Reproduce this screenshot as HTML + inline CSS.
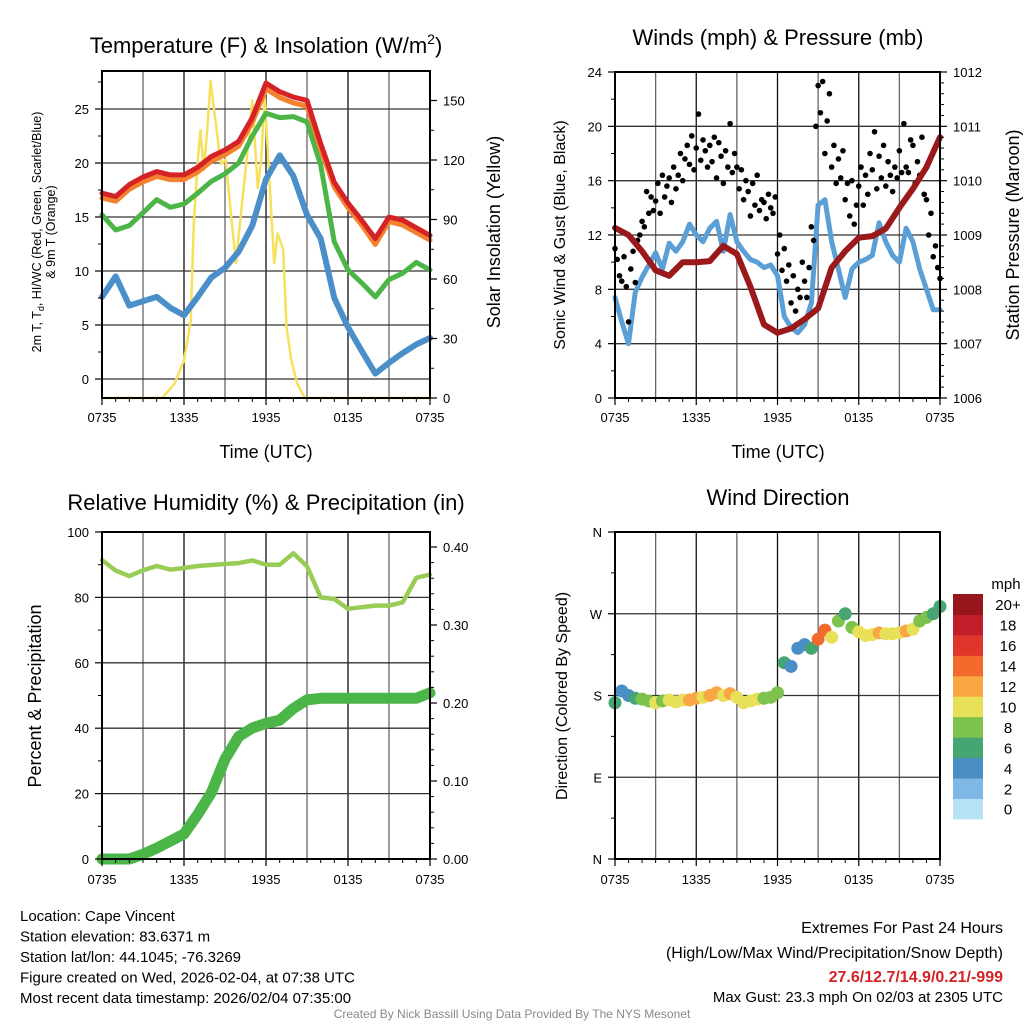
<!DOCTYPE html>
<html><head><meta charset="utf-8"><title>Cape Vincent Meteogram</title>
<style>
html,body{margin:0;padding:0;background:#fff;}
svg{display:block;font-family:"Liberation Sans",Arial,sans-serif;}
</style></head>
<body>
<svg id="chart" width="1024" height="1024" viewBox="0 0 1024 1024" xmlns="http://www.w3.org/2000/svg">
<rect x="0" y="0" width="1024" height="1024" fill="#fff"/>
<g id="layer"></g>
</svg>
<script>
// ===== Shared time axis =====
const timeTickLabels = ["0735","1335","1935","0135","0735"];
const timeTickHours = [0,6,12,18,24];

// ===== Panel 1: temperature (hourly) =====
const tempRed =    [17.2,16.9,18.0,18.7,19.2,18.9,18.9,19.6,20.6,21.2,22.0,24.2,27.4,26.6,26.1,25.8,21.8,18.2,16.3,14.7,13.0,15.0,14.7,14.0,13.3];
const tempOrange = [16.9,16.6,17.7,18.4,18.9,18.6,18.6,19.3,20.3,20.9,21.7,23.9,27.0,26.2,25.7,25.4,21.4,17.9,16.0,14.4,12.6,14.7,14.4,13.7,13.0];
const tempGreen =  [15.2,13.8,14.2,15.4,16.6,15.9,16.2,17.2,18.3,19.0,20.0,22.5,24.6,24.2,24.3,23.8,19.8,12.7,10.1,8.9,7.6,9.2,9.8,10.8,10.1];
const tempBlue =   [7.6,9.5,6.8,7.2,7.6,6.6,5.9,7.6,9.4,10.3,11.8,14.2,18.5,20.7,18.8,15.2,13.0,7.5,4.8,2.6,0.5,1.5,2.4,3.2,3.8];
const solarHours = [0,4.4,5.3,6.0,6.5,6.7,6.985,7.2,7.45,7.7,7.95,8.2,8.7,9.05,9.4,9.8,10.2,10.7,11.0,11.4,11.65,11.9,12.25,12.6,12.85,13.25,13.5,13.85,14.3,14.85,24];
const solarVals =  [0,0,7,19,39,86,118,135,115,135,160,145,118,120,95,68,95,128,150,106,120,152,110,68,83,75,36,19,7,0,0];
const p1LeftTicks = [0,5,10,15,20,25];
const p1RightTicks = [0,30,60,90,120,150];

// ===== Panel 2: winds & pressure =====
const windSpeed = [7.4,5.6,4.0,7.8,8.9,9.8,10.7,9.5,11.4,10.8,11.5,12.8,12.0,11.5,12.5,13.0,10.8,13.5,11.5,10.8,10.2,10.0,9.6,9.8,9.0,6.0,5.2,4.8,5.4,7.0,14.2,14.6,11.5,9.5,7.4,9.5,10.0,10.2,10.5,12.9,11.5,10.5,10.0,12.5,11.5,9.5,8.0,6.5,6.5];
const pressure = [1009.13,1009.0,1008.7,1008.35,1008.25,1008.5,1008.5,1008.52,1008.8,1008.65,1008.05,1007.35,1007.2,1007.28,1007.45,1007.65,1008.4,1008.7,1008.95,1008.98,1009.12,1009.5,1009.85,1010.25,1010.8];
const gusts = [11.0,10.2,9.0,8.6,10.4,8.2, 5.6,9.5,10.8,8.5,11.6,12.0, 13.0,12.6,15.2,13.6,14.8,13.8, 14.5,15.8,13.6,16.4,14.8,15.6,
 16.2,14.4,17.0,15.4,16.4,18.0, 16.0,17.6,18.6,17.2,19.3,16.8, 18.4,20.9,17.5,19.0,18.2,17.0, 18.6,17.4,19.2,16.2,18.8,17.8,
 15.8,18.2,17.0,20.2,16.6,18.0, 17.0,15.4,16.8,14.6,16.0,15.2, 13.4,15.8,14.2,16.4,13.8,14.6, 14.4,13.2,15.0,14.0,13.6,14.8,
 10.6,12.0,9.4,11.0,8.6,9.8, 7.0,9.0,6.4,8.0,7.4,10.0, 8.6,7.4,9.6,12.6,11.6,20.0, 23.0,21.0,23.3,18.0,20.4,22.4,
 17.0,18.6,15.8,17.6,16.2,18.2, 14.6,15.8,13.4,16.0,12.8,14.2, 15.6,17.0,14.2,16.4,15.0,18.0, 16.8,19.6,15.4,17.8,16.2,18.6,
 15.6,17.4,16.4,15.2,17.0,16.2, 18.2,16.6,20.2,17.0,16.6,19.0, 18.6,15.8,17.4,16.4,19.2,15.0, 14.6,12.0,13.6,10.4,11.2,9.6, 8.8];
const p2LeftTicks = [0,4,8,12,16,20,24];
const p2RightTicks = [1006,1007,1008,1009,1010,1011,1012];

// ===== Panel 3: RH & precip (hourly) =====
const rh = [91.4,88.2,86.5,88.3,89.6,88.5,89.0,89.6,89.9,90.2,90.5,91.3,90.0,90.0,93.5,89.5,80.0,79.5,76.5,77.0,77.5,77.5,78.5,86.0,87.0];
const precip = [0,0,0,0.006,0.014,0.023,0.032,0.057,0.085,0.128,0.157,0.168,0.174,0.178,0.193,0.204,0.206,0.206,0.206,0.206,0.206,0.206,0.206,0.206,0.213];
const p3LeftTicks = [0,20,40,60,80,100];
const p3RightTicks = [0,0.1,0.2,0.3,0.4];
const p3RightLabels = ["0.00","0.10","0.20","0.30","0.40"];

// ===== Panel 4: wind direction (half-hourly, degrees) =====
const windDir = [172,185,180,177,176,174,172,174,175,173,175,175,177,178,180,183,180,182,178,172,174,176,177,178,183,216,212,232,236,232,242,252,244,262,270,255,250,246,247,249,248,248,249,251,253,262,266,270,278];
const dirTicks = [0,90,180,270,360];
const dirLabels = ["N","E","S","W","N"];
const speedBins = [0,2,4,6,8,10,12,14,16,18,20];
const speedBinLabels = ["0","2","4","6","8","10","12","14","16","18","20+"];
const speedColors = ["#b8e2f6","#7fb8e4","#4a8ec6","#45a673","#7cc24c","#e8e058","#f8a744","#f26a2c","#e0352a","#c01e28","#97161c"];

const NS = "http://www.w3.org/2000/svg";
const layer = document.getElementById("layer");
function el(tag, attrs, parent){
  const e = document.createElementNS(NS, tag);
  for (const k in attrs) e.setAttribute(k, attrs[k]);
  (parent||layer).appendChild(e);
  return e;
}
function txt(s, x, y, size, anchor, parent, extra){
  const t = el("text", Object.assign({x:x, y:y, "font-size":size, "text-anchor":anchor||"middle", fill:"#000"}, extra||{}), parent);
  t.textContent = s;
  return t;
}

const panels = {
  p1:{L:102,R:430,T:71,B:398},
  p2:{L:615,R:940,T:72,B:398},
  p3:{L:102,R:430,T:532,B:859},
  p4:{L:615,R:940,T:532,B:859}
};
function xs(p, h){ return p.L + (p.R-p.L)*h/24; }
function lin(d0,d1,r0,r1){ return v => r0 + (v-d0)*(r1-r0)/(d1-d0); }

function grid(p, yLines, g){
  for (let h=3; h<24; h+=3){
    const x = xs(p,h);
    const l = el("line",{x1:x,y1:p.T,x2:x,y2:p.B,stroke:(h%6===0)?"#111":"#666","stroke-width":1.3},g);
    
    
  }
  yLines.forEach(y=>{
    const l = el("line",{x1:p.L,y1:y,x2:p.R,y2:y,stroke:"#333","stroke-width":1.3},g);
    
    
  });
}
function frame(p, g){
  const r = el("rect",{x:p.L,y:p.T,width:p.R-p.L,height:p.B-p.T,fill:"none",stroke:"#000","stroke-width":2},g);
  
  
}
function xAxis(p, g, labelY){
  timeTickHours.forEach((h,i)=>{
    const x = xs(p,h);
    el("line",{x1:x,y1:p.B,x2:x,y2:p.B+7,stroke:"#000","stroke-width":1.2},g);
    const t = txt(timeTickLabels[i], x, labelY, 13, "middle", g);
    
    
  });
  for (let h=1; h<24; h++){ if (h%6) { const x=xs(p,h); el("line",{x1:x,y1:p.B,x2:x,y2:p.B+4,stroke:"#000","stroke-width":1},g);} }
}
function yTicks(p, g, vals, labels, sc, side, minorVals){
  vals.forEach((v,i)=>{
    const y = sc(v);
    if (side==="left"){
      el("line",{x1:p.L-7,y1:y,x2:p.L,y2:y,stroke:"#000","stroke-width":1.2},g);
      const t = txt(labels[i], p.L-13, y+5, 13, "end", g);
      
      
    } else {
      el("line",{x1:p.R,y1:y,x2:p.R+7,y2:y,stroke:"#000","stroke-width":1.2},g);
      const t = txt(labels[i], p.R+13, y+5, 13, "start", g);
      
      
    }
  });
  (minorVals||[]).forEach(v=>{
    const y = sc(v);
    if (side==="left") el("line",{x1:p.L-4,y1:y,x2:p.L,y2:y,stroke:"#000","stroke-width":1},g);
    else el("line",{x1:p.R,y1:y,x2:p.R+4,y2:y,stroke:"#000","stroke-width":1},g);
  });
}
function pathFrom(xsArr, ysArr){
  return xsArr.map((x,i)=>(i?"L":"M")+x.toFixed(1)+","+ysArr[i].toFixed(1)).join(" ");
}
function series(g, name, xArr, yArr, color, w){
  const pth = el("path",{d:pathFrom(xArr,yArr),fill:"none",stroke:color,"stroke-width":w,"stroke-linejoin":"round","stroke-linecap":"round"},g);
  
  
  return pth;
}
function rotLabel(s, x, y, size, rot, g, name){
  const t = txt(s, x, y, size, "middle", g, {transform:"rotate("+rot+" "+x+" "+y+")"});
  
  
  return t;
}

// ---------- Panel 1 ----------
(function(){
  const p = panels.p1;
  const g = el("g",{});
  
  
  const yT = lin(0,25,379,109);
  const yS = lin(0,150,398,100.5);
  grid(p, p1LeftTicks.map(yT), g);
  const hourly = tempRed.map((v,i)=>xs(p,i));
  series(g,'solar-insolation-line', solarHours.map(h=>xs(p,h)), solarVals.map(yS), "#f7e05a", 2.5);
  series(g,'dewpoint-line-blue', hourly, tempBlue.map(yT), "#4a8fc9", 6);
  series(g,'temp-line-green', hourly, tempGreen.map(yT), "#4cb548", 5);
  series(g,'temp-9m-line-orange', hourly, tempOrange.map(v=>yT(v)+1.5), "#f4812d", 5);
  series(g,'heat-index-line-red', hourly, tempRed.map(yT), "#d42226", 5);
  frame(p,g);
  xAxis(p,g,422);
  yTicks(p,g,p1LeftTicks,p1LeftTicks.map(String),yT,"left",[2.5,7.5,12.5,17.5,22.5,27.5]);
  yTicks(p,g,p1RightTicks,p1RightTicks.map(String),yS,"right",[15,45,75,105,135]);
  const title = txt("", 266, 53, 22, "middle", g);
  title.innerHTML = 'Temperature (F) &amp; Insolation (W/m<tspan dy="-9" font-size="14">2</tspan><tspan dy="9">)</tspan>';
  
  
  const xl = txt("Time (UTC)", 266, 458, 18, "middle", g);
  
  
  const yl = txt("", 41, 232, 12.5, "middle", g, {transform:"rotate(-90 41 232)"});
  yl.innerHTML = '2m T, T<tspan dy="3" font-size="9">d</tspan><tspan dy="-3">, HI/WC (Red, Green, Scarlet/Blue)</tspan>';
  
  
  rotLabel("& 9m T (Orange)", 55, 232, 12.5, -90, g, 'left-y-axis-title-line2');
  rotLabel("Solar Insolation (Yellow)", 500, 232, 18, -90, g, 'right-y-axis-title');
})();

// ---------- Panel 2 ----------
(function(){
  const p = panels.p2;
  const g = el("g",{});
  
  
  const yW = lin(0,24,398,72);
  const yP = lin(1006,1012,398,72);
  grid(p, p2LeftTicks.slice(1,6).map(yW), g);
  series(g,'sonic-wind-line', windSpeed.map((v,i)=>xs(p,i/2)), windSpeed.map(yW), "#5a9fd6", 5);
  gusts.forEach((v,i)=>{
    const c = el("circle",{cx:xs(p,i/6),cy:yW(v),r:2.8,fill:"#000"},g);
    
    
  });
  series(g,'station-pressure-line', pressure.map((v,i)=>xs(p,i)), pressure.map(yP), "#9a1a1c", 6);
  frame(p,g);
  xAxis(p,g,422);
  yTicks(p,g,p2LeftTicks,p2LeftTicks.map(String),yW,"left",[2,6,10,14,18,22]);
  yTicks(p,g,p2RightTicks,p2RightTicks.map(String),yP,"right",[1006.2,1006.4,1006.6,1006.8,1007.2,1007.4,1007.6,1007.8,1008.2,1008.4,1008.6,1008.8,1009.2,1009.4,1009.6,1009.8,1010.2,1010.4,1010.6,1010.8,1011.2,1011.4,1011.6,1011.8]);
  const t = txt("Winds (mph) & Pressure (mb)", 778, 45, 22, "middle", g);
  
  
  const xl = txt("Time (UTC)", 778, 458, 18, "middle", g);
  
  
  rotLabel("Sonic Wind & Gust (Blue, Black)", 565, 235, 16, -90, g, 'left-y-axis-title');
  rotLabel("Station Pressure (Maroon)", 1019, 235, 18, -90, g, 'right-y-axis-title');
})();

// ---------- Panel 3 ----------
(function(){
  const p = panels.p3;
  const g = el("g",{});
  
  
  const yR = lin(0,100,859,532);
  const yPr = lin(0,0.4,859,547);
  grid(p, [20,40,60,80].map(yR), g);
  const hourly = rh.map((v,i)=>xs(p,i));
  series(g,'relative-humidity-line', hourly, rh.map(yR), "#99cc55", 4.5);
  series(g,'precipitation-line', hourly, precip.map(yPr), "#4cb548", 11);
  frame(p,g);
  xAxis(p,g,884);
  yTicks(p,g,p3LeftTicks,p3LeftTicks.map(String),yR,"left",[10,30,50,70,90]);
  yTicks(p,g,p3RightTicks,p3RightLabels,yPr,"right",[0.02,0.04,0.06,0.08,0.12,0.14,0.16,0.18,0.22,0.24,0.26,0.28,0.32,0.34,0.36,0.38]);
  const t = txt("Relative Humidity (%) & Precipitation (in)", 266, 510, 22, "middle", g);
  
  
  rotLabel("Percent & Precipitation", 41, 696, 18, -90, g, 'left-y-axis-title');
})();

// ---------- Panel 4 ----------
(function(){
  const p = panels.p4;
  const g = el("g",{});
  
  
  const yD = lin(0,360,859,532);
  grid(p, [90,180,270].map(yD), g);
  function colorFor(s){ let k=0; for (let j=0;j<speedBins.length;j++){ if (s>=speedBins[j]) k=j; } return speedColors[k]; }
  windDir.forEach((d,i)=>{
    const c = el("circle",{cx:xs(p,i/2),cy:yD(d),r:6.5,fill:colorFor(windSpeed[i])},g);
    
    
  });
  frame(p,g);
  xAxis(p,g,884);
  yTicks(p,g,dirTicks,dirLabels,yD,"left",[45,135,225,315]);
  const t = txt("Wind Direction", 778, 505, 22, "middle", g);
  
  
  rotLabel("Direction (Colored By Speed)", 567, 696, 16, -90, g, 'left-y-axis-title');
  const cb = el("g",{},g);
  
  
  const top = 594, bh = 20.45;
  speedColors.forEach((c,i)=>{
    const y = top + (speedColors.length-1-i)*bh;
    const r = el("rect",{x:953,y:y,width:30,height:bh+0.5,fill:c},cb);
    
    
    const l = txt(speedBinLabels[i], 1008, y+bh/2+6, 15, "middle", cb);
    
    
  });
  const m = txt("mph", 1006, 589, 15, "middle", cb);
  
  
})();

// ---------- Footer text ----------
(function(){
  const g = el("g",{});
  
  
  const lines = ["Location: Cape Vincent","Station elevation: 83.6371 m","Station lat/lon: 44.1045; -76.3269","Figure created on Wed, 2026-02-04, at 07:38 UTC","Most recent data timestamp: 2026/02/04 07:35:00"];
  lines.forEach((s,i)=>{
    const t = txt(s, 20, 921+i*20.5, 15, "start", g);
    
    
  });
  const g2 = el("g",{});
  
  
  const a = txt("Extremes For Past 24 Hours", 1003, 933, 16, "end", g2);
  
  
  const b = txt("(High/Low/Max Wind/Precipitation/Snow Depth)", 1003, 958, 16, "end", g2);
  
  
  const c = txt("27.6/12.7/14.9/0.21/-999", 1003, 982, 16, "end", g2, {fill:"#d42226","font-weight":"bold"});
  
  
  const d = txt("Max Gust: 23.3 mph On 02/03 at 2305 UTC", 1003, 1002, 15, "end", g2);
  
  
  const f = txt("Created By Nick Bassill Using Data Provided By The NYS Mesonet", 512, 1018, 12, "middle", layer, {fill:"#888"});
  
  
})();
</script>
</body></html>
